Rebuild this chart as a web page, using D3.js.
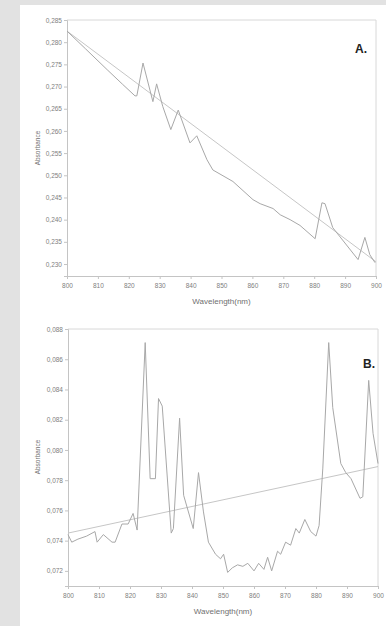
<!DOCTYPE html>
<html>
<head>
<meta charset="utf-8">
<script src="https://cdn.jsdelivr.net/npm/d3@7"></script>
<style>
  html, body { margin: 0; padding: 0; background: #e2e2e2; }
  svg { display: block; }
</style>
</head>
<body>
<script>
'use strict';

// panel A: spectrum and straight baseline
const specA_x = [800, 806, 813, 818, 822, 822.6, 824.6, 827.8, 829, 831, 833.6, 836, 839.8, 842, 845.3,
  847.2, 853.7, 860.2, 862.5, 866.7, 869, 872.2, 875.4, 880.3, 882.5, 883.5, 886, 894.2, 896.4, 898, 899.7];
const specA_y = [0.2825, 0.2785, 0.2738, 0.2705, 0.2679, 0.2679, 0.2753, 0.2666, 0.2706, 0.2655, 0.2603, 0.2647, 0.2573, 0.2589, 0.2535,
  0.2512, 0.2486, 0.2445, 0.2436, 0.2425, 0.2411, 0.2400, 0.2387, 0.2357, 0.2438, 0.2436, 0.2382, 0.2310, 0.2360, 0.2321, 0.2303];
const baseA_x = [800, 900];
const baseA_y = [0.2825, 0.2305];
const ticksA = [0.230, 0.235, 0.240, 0.245, 0.250, 0.255, 0.260, 0.265, 0.270, 0.275, 0.280, 0.285];

// panel B
const specB_x = [800, 801.2, 803.2, 806, 808.7, 809.4, 811.4, 814.2, 815.2, 817.4, 819.4, 821, 822.3, 824.9,
  826.5, 828.2, 829.2, 830.4, 833.3, 834, 836, 837.3, 840.4, 842.1, 843.7, 845.3, 847.6, 849.2, 850.2,
  851.5, 853, 854.7, 856.4, 858, 860, 861.5, 863.2, 864.4, 865.7, 867.6, 868.6, 870.2, 871.8, 873.5,
  874.6, 876.4, 878.3, 880, 881, 882.2, 884.1, 885.4, 888, 889.6, 891.3, 894.2, 895.1, 897, 898.4, 900];
const specB_y = [0.0744, 0.0739, 0.0741, 0.0743, 0.0746, 0.0739, 0.0744, 0.0739, 0.0739, 0.0751, 0.0751, 0.0758, 0.0747, 0.0871,
  0.0781, 0.0781, 0.0834, 0.0829, 0.0745, 0.0748, 0.0821, 0.0770, 0.0748, 0.0785, 0.0759, 0.0739, 0.0731, 0.0728, 0.0731,
  0.0719, 0.0722, 0.0724, 0.0723, 0.0725, 0.0720, 0.0725, 0.0721, 0.0729, 0.0720, 0.0733, 0.0731, 0.0739, 0.0737, 0.0748,
  0.0745, 0.0754, 0.0746, 0.0743, 0.0750, 0.0788, 0.0871, 0.0828, 0.0791, 0.0785, 0.0781, 0.0768, 0.0769, 0.0846, 0.0811, 0.0791];
const baseB_x = [800, 900];
const baseB_y = [0.0745, 0.0789];
const ticksB = [0.072, 0.074, 0.076, 0.078, 0.080, 0.082, 0.084, 0.086, 0.088];

const xTicks = [800, 810, 820, 830, 840, 850, 860, 870, 880, 890, 900];

const svg = d3.select('body').append('svg')
  .attr('width', 386)
  .attr('height', 626);

// white sheet
svg.append('rect')
  .attr('x', 20).attr('y', 5)
  .attr('width', 366).attr('height', 621)
  .attr('fill', '#ffffff');

const commaFmt = (d) => d3.format('.3f')(d).replace('.', ',');

function drawPanel(opt) {
  const x = d3.scaleLinear().domain([800, 900]).range([opt.left, opt.right]);
  const y = d3.scaleLinear().domain(opt.yDomain).range([opt.bottom, opt.top]);
  const g = svg.append('g');

  // frame top and right
  g.append('path')
    .attr('d', `M${opt.left},${opt.top}H${opt.right}V${opt.bottom}`)
    .attr('fill', 'none').attr('stroke', '#d8d8d8').attr('stroke-width', 1);

  const xAxis = d3.axisBottom(x).tickValues(xTicks).tickSize(3).tickPadding(4).tickFormat(d3.format('d'));
  const gx = g.append('g').attr('transform', `translate(0,${opt.bottom})`).call(xAxis);
  const yAxis = d3.axisLeft(y).tickValues(opt.ticks).tickSize(3).tickPadding(2).tickFormat(commaFmt);
  const gy = g.append('g').attr('transform', `translate(${opt.left},0)`).call(yAxis);

  [gx, gy].forEach((ax) => {
    ax.select('.domain').attr('stroke', '#c4c4c4');
    ax.selectAll('.tick line').attr('stroke', '#c4c4c4');
    ax.selectAll('.tick text')
      .attr('fill', '#808080')
      .style('font-family', 'Liberation Sans, Arial, sans-serif')
      .style('font-size', '6.5px');
  });

  const line = d3.line().x((d) => x(d[0])).y((d) => y(d[1]));

  g.append('path')
    .datum(opt.baseX.map((v, i) => [v, opt.baseY[i]]))
    .attr('d', line)
    .attr('fill', 'none').attr('stroke', '#c6c6c6').attr('stroke-width', 1);

  g.append('path')
    .datum(opt.specX.map((v, i) => [v, opt.specY[i]]))
    .attr('d', line)
    .attr('fill', 'none').attr('stroke', '#a8a8a8').attr('stroke-width', 1)
    .attr('stroke-linejoin', 'round');

  // axis titles
  g.append('text')
    .attr('x', (opt.left + opt.right) / 2)
    .attr('y', opt.bottom + 28)
    .attr('text-anchor', 'middle')
    .attr('fill', '#707070')
    .style('font-family', 'Liberation Sans, Arial, sans-serif')
    .style('font-size', '8px')
    .text('Wavelength(nm)');

  g.append('text')
    .attr('transform', `translate(40,${opt.labelY})rotate(-90)`)
    .attr('text-anchor', 'middle')
    .attr('fill', '#707070')
    .style('font-family', 'Liberation Sans, Arial, sans-serif')
    .style('font-size', '6.5px')
    .text('Absorbance');

  // panel letter
  g.append('text')
    .attr('x', opt.letterX)
    .attr('y', opt.letterY)
    .attr('fill', '#222')
    .style('font-family', 'Liberation Sans, Arial, sans-serif')
    .style('font-weight', 'bold')
    .style('font-size', '12px')
    .text(opt.letter);
}

drawPanel({
  left: 67, right: 376, top: 20, bottom: 276,
  yDomain: [0.2273, 0.285], ticks: ticksA,
  specX: specA_x, specY: specA_y, baseX: baseA_x, baseY: baseA_y,
  labelY: 148, letter: 'A.', letterX: 355, letterY: 53
});

drawPanel({
  left: 68, right: 378, top: 329, bottom: 586,
  yDomain: [0.071, 0.088], ticks: ticksB,
  specX: specB_x, specY: specB_y, baseX: baseB_x, baseY: baseB_y,
  labelY: 457, letter: 'B.', letterX: 363, letterY: 368
});
</script>
</body>
</html>
